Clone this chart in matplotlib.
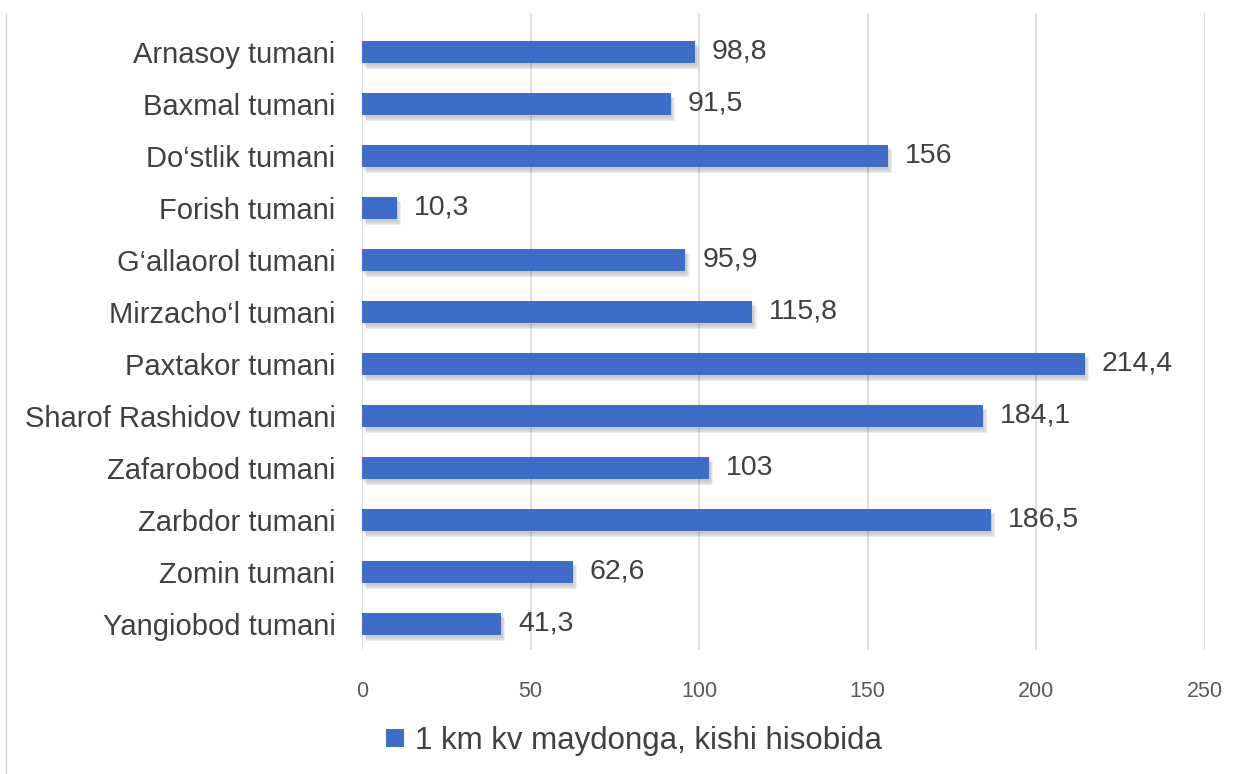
import matplotlib
matplotlib.use("Agg")
import matplotlib.pyplot as plt
import matplotlib.patheffects as pe
from matplotlib.lines import Line2D

districts = ["Arnasoy tumani", "Baxmal tumani", "Do‘stlik tumani", "Forish tumani",
             "G‘allaorol tumani", "Mirzacho‘l tumani", "Paxtakor tumani",
             "Sharof Rashidov tumani", "Zafarobod tumani", "Zarbdor tumani",
             "Zomin tumani", "Yangiobod tumani"]
density = [98.8, 91.5, 156, 10.3, 95.9, 115.8, 214.4, 184.1, 103, 186.5, 62.6, 41.3]
value_labels = ["98,8", "91,5", "156", "10,3", "95,9", "115,8", "214,4",
                "184,1", "103", "186,5", "62,6", "41,3"]
legend_label = "1 km kv maydonga, kishi hisobida"
x_ticks = [0, 50, 100, 150, 200, 250]

plt.rcParams['font.family'] = ['Liberation Sans', 'DejaVu Sans']

bar_color = "#3e6dc8"
text_color = "#404040"

fig = plt.figure(figsize=(12.43, 7.74), dpi=100)
ax = fig.add_axes([362 / 1243, 1 - 650 / 774, (1205 - 362) / 1243, (650 - 13) / 774])

ypos = list(range(len(districts)))
bars = ax.barh(ypos, density, height=0.44, color=bar_color, zorder=3,
               label=legend_label)
# soft drop shadow: a few faint offset copies
shadow = [pe.SimplePatchShadow(offset=(dx, dy), shadow_rgbFace="#000000", alpha=0.07)
          for dx, dy in [(3, -4), (2, -3), (1, -2)]]
for b in bars:
    b.set_path_effects(shadow + [pe.Normal()])

for y, v, lab in zip(ypos, density, value_labels):
    ax.text(v + 5, y, lab, va="center", ha="left", fontsize=20.5, color=text_color)

ax.set_xlim(0, 250)
ax.set_ylim(11.5, -0.75)
ax.set_xticks(x_ticks)
ax.set_xticklabels([str(t) for t in x_ticks], fontsize=15.5, color="#595959")
ax.set_yticks(ypos)
ax.set_yticklabels(districts, fontsize=21, color=text_color)
ax.tick_params(axis="both", length=0)
ax.tick_params(axis="x", pad=22)
ax.tick_params(axis="y", pad=19)
ax.grid(axis="x", color="#d9d9d9", linewidth=1.2, zorder=0)
for s in ax.spines.values():
    s.set_visible(False)

leg = fig.legend(handles=[bars], labels=[legend_label], loc="center",
                 bbox_to_anchor=(634 / 1243, 1 - 741 / 774), frameon=False,
                 fontsize=22.5, handlelength=0.55, handleheight=0.55, handletextpad=0.35)
for t in leg.get_texts():
    t.set_color(text_color)
for h in leg.legend_handles:
    h.set_path_effects([])

fig.add_artist(Line2D([6 / 1243, 6 / 1243], [0, 1 - 13 / 774], color="#d9d9d9",
                      linewidth=1, transform=fig.transFigure))

fig.savefig("out.png", dpi=100)
